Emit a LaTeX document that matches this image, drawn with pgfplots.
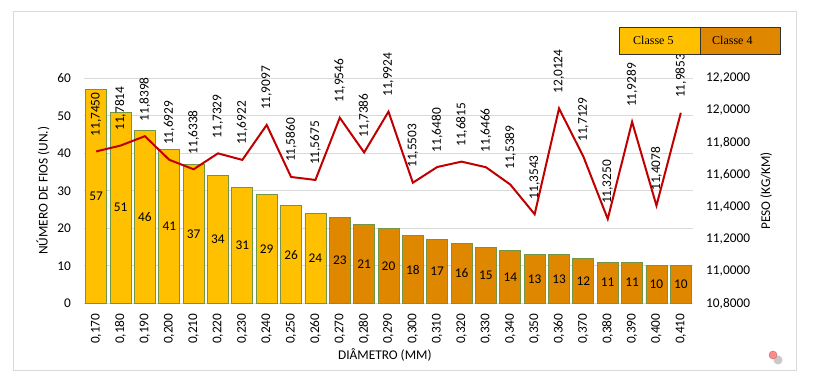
\documentclass[border=0pt]{standalone}
\usepackage{pgfplots}
\pgfplotsset{compat=1.18}
\usepackage{pgfplotstable}
\usepackage{fontspec}
\setmainfont{Carlito}
\newfontfamily\legfont{Liberation Serif}
\definecolor{gold}{RGB}{255,192,0}
\definecolor{orng}{RGB}{224,135,0}
\definecolor{edge}{RGB}{112,150,70}
\definecolor{lred}{RGB}{192,0,0}
\definecolor{gridc}{RGB}{217,217,217}
\newcommand{\cf}{\fontsize{13.33}{16}\selectfont}

\pgfplotstableread{
x n
0 57
1 51
2 46
3 41
4 37
5 34
6 31
7 29
8 26
9 24
}\classfive
\pgfplotstableread{
x n
10 23
11 21
12 20
13 18
14 17
15 16
16 15
17 14
18 13
19 13
20 12
21 11
22 11
23 10
24 10
}\classfour
\pgfplotstableread{
x peso lab
0 11.7450 11,7450
1 11.7814 11,7814
2 11.8398 11,8398
3 11.6929 11,6929
4 11.6338 11,6338
5 11.7329 11,7329
6 11.6922 11,6922
7 11.9097 11,9097
8 11.5860 11,5860
9 11.5675 11,5675
10 11.9546 11,9546
11 11.7386 11,7386
12 11.9924 11,9924
13 11.5503 11,5503
14 11.6480 11,6480
15 11.6815 11,6815
16 11.6466 11,6466
17 11.5389 11,5389
18 11.3543 11,3543
19 12.0124 12,0124
20 11.7129 11,7129
21 11.3250 11,3250
22 11.9289 11,9289
23 11.4078 11,4078
24 11.9853 11,9853
}\peso

\begin{document}
\begin{tikzpicture}[x=1pt,y=1pt]
\useasboundingbox (0,0) rectangle (813,375);
\fill[white] (0,0) rectangle (813,375);
\draw[gridc, line width=1pt] (13,5) rectangle (796,363);
\begin{axis}[
  at={(84pt,71.7pt)}, anchor=south west,
  scale only axis, width=609pt, height=225pt,
  xmin=-0.5, xmax=24.5, ymin=0, ymax=60,
  ytick={0,10,...,60},
  xtick={0,...,24},
  xticklabels={{0,170},{0,180},{0,190},{0,200},{0,210},{0,220},{0,230},{0,240},{0,250},{0,260},{0,270},{0,280},{0,290},{0,300},{0,310},{0,320},{0,330},{0,340},{0,350},{0,360},{0,370},{0,380},{0,390},{0,400},{0,410}},
  axis x line*=bottom, axis y line*=left,
  x axis line style={draw=gridc, line width=1pt, -},
  y axis line style={draw=none},
  major tick length=0pt,
  ymajorgrids, grid style={draw=gridc, line width=0.8pt},
  /pgf/number format/assume math mode=true,
  tick label style={font=\cf, inner sep=0pt},
  xticklabel style={rotate=90, anchor=east},
  xticklabel shift=10pt,
  yticklabel shift=13pt,
  xlabel={DIÂMETRO (MM)},
  ylabel={NÚMERO DE FIOS (UN.)},
  every axis x label/.style={at={(axis description cs:0.494,-0.23)}, anchor=center, font=\cf},
  every axis y label/.style={at={(axis description cs:-0.0673,0.5)}, rotate=90, anchor=center, font=\cf},
  clip=false,
]
\addplot[ybar, bar width=21pt, bar shift=0pt, fill=gold, draw=edge, line width=0.8pt] table[x=x, y=n] {\classfive};
\addplot[ybar, bar width=21pt, bar shift=0pt, fill=orng, draw=edge, line width=0.8pt] table[x=x, y=n] {\classfour};
\addplot[draw=none, mark=none, nodes near coords, point meta=explicit symbolic,
  every node near coord/.append style={anchor=center, font=\cf}]
  table[x=x, y expr=\thisrow{n}/2, meta=n] {\classfive};
\addplot[draw=none, mark=none, nodes near coords, point meta=explicit symbolic,
  every node near coord/.append style={anchor=center, font=\cf}]
  table[x=x, y expr=\thisrow{n}/2, meta=n] {\classfour};
\end{axis}
\begin{axis}[
  at={(84pt,71.7pt)}, anchor=south west,
  scale only axis, width=609pt, height=225pt,
  xmin=-0.5, xmax=24.5, ymin=10.8, ymax=12.2,
  ytick={10.8,11,11.2,11.4,11.6,11.8,12,12.2},
  axis x line=none, axis y line*=right,
  y axis line style={draw=none},
  major tick length=0pt,
  tick label style={font=\cf, inner sep=0pt},
  yticklabel shift=13pt,
  y tick label style={/pgf/number format/.cd, fixed, fixed zerofill, precision=4, use comma, assume math mode=true},
  ylabel={PESO (KG/KM)},
  every axis y label/.style={at={(axis description cs:1.12,0.5)}, rotate=90, anchor=center, font=\cf},
  clip=false,
]
\addplot[color=lred, line width=2pt, mark=none,
  nodes near coords, point meta=explicit symbolic,
  every node near coord/.append style={yshift=14pt, rotate=90, anchor=west, inner sep=0pt, font=\cf, text=black}]
  table[x=x, y=peso, meta=lab] {\peso};
\end{axis}
% legend
\draw[draw=black!80, fill=gold, line width=0.8pt] (619,321) rectangle (700,348);
\draw[draw=black!80, fill=orng, line width=0.8pt] (700,321) rectangle (780,348);
\node[anchor=west, inner sep=0pt, font=\legfont\fontsize{12}{14}\selectfont] at (633,334.5) {Classe 5};
\node[anchor=west, inner sep=0pt, font=\legfont\fontsize{12}{14}\selectfont] at (712,334.5) {Classe 4};
% decoration dot
\fill[black!35, opacity=0.6] (778,15) circle (4.5);
\fill[red!45, draw=red!60!black!60] (773,20) circle (4);
\end{tikzpicture}
\end{document}
